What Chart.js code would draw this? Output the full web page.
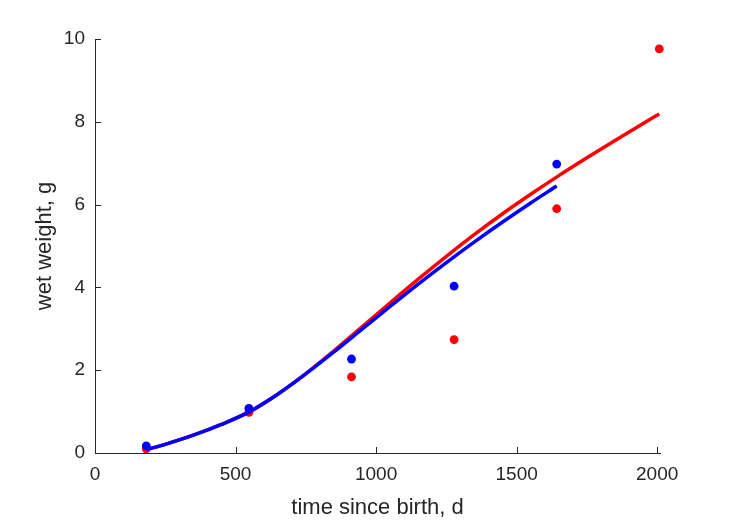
<!DOCTYPE html>
<html>
<head>
<meta charset="utf-8">
<script src="https://cdn.jsdelivr.net/npm/chart.js@4.4.0/dist/chart.umd.min.js"></script>
<style>
  html, body { margin: 0; padding: 0; background: #fff; }
  #wrap { width: 729px; height: 521px; }
</style>
</head>
<body>
<div id="wrap"><canvas id="myChart" width="729" height="521"></canvas></div>
<script>
// measured ages (d) and wet weights (g)
let ageDays = [182.5, 547.5, 912.5, 1277.5, 1642.5, 2007.5];
let weightBlue = [0.17, 1.08, 2.27, 4.03, 6.98];
let weightRed = [0.10, 0.98, 1.84, 2.74, 5.90, 9.76];

// fitted growth curves
let fitRedX = [182.5, 250, 350, 450, 550, 650, 750, 850, 950, 1050, 1150, 1250, 1350, 1450, 1550, 1650, 1750, 1850, 1950, 2007.5];
let fitRedY = [0.08, 0.21, 0.43, 0.69, 1.00, 1.42, 1.92, 2.47, 3.05, 3.63, 4.20, 4.75, 5.28, 5.78, 6.25, 6.70, 7.13, 7.55, 7.96, 8.19];
let fitBlueX = [182.5, 250, 350, 450, 550, 650, 750, 850, 950, 1050, 1150, 1250, 1350, 1450, 1550, 1642.5];
let fitBlueY = [0.08, 0.21, 0.43, 0.69, 1.00, 1.42, 1.91, 2.44, 2.99, 3.54, 4.08, 4.60, 5.10, 5.58, 6.04, 6.45];

let xTicks = [0, 500, 1000, 1500, 2000];
let yTicks = [0, 2, 4, 6, 8, 10];

function pts(xs, ys) {
    return ys.map((y, i) => ({x: xs[i], y: y}));
}

let axisColor = '#262626';
let fontFamily = '"Liberation Sans", Arial, Helvetica, sans-serif';

// matlab style ticks pointing into the plot
let innerTicks = {
    id: 'innerTicks',
    afterDraw(chart) {
        let c = chart.ctx;
        let xs = chart.scales.x, ys = chart.scales.y;
        let len = 6;
        c.save();
        c.strokeStyle = axisColor;
        c.lineWidth = 1;
        c.beginPath();
        xTicks.forEach(v => {
            let px = Math.round(xs.getPixelForValue(v)) + 0.5;
            c.moveTo(px, ys.bottom);
            c.lineTo(px, ys.bottom - len);
        });
        yTicks.forEach(v => {
            let py = Math.round(ys.getPixelForValue(v)) + 0.5;
            c.moveTo(xs.left, py);
            c.lineTo(xs.left + len, py);
        });
        c.stroke();
        c.restore();
    }
};

let ctx = document.getElementById('myChart').getContext('2d');
let myChart = new Chart(ctx, {
    type: 'scatter',
    data: {
        datasets: [
            {
                data: pts(fitBlueX, fitBlueY),
                borderColor: '#0000ff',
                borderWidth: 3.5,
                pointRadius: 0,
                showLine: true,
                clip: false,
                cubicInterpolationMode: 'monotone'
            },
            {
                data: pts(ageDays, weightBlue),
                backgroundColor: '#0000ff',
                borderColor: '#0000ff',
                pointRadius: 4.4,
                pointBorderWidth: 0,
                clip: false,
                showLine: false
            },
            {
                data: pts(fitRedX, fitRedY),
                borderColor: '#ff0000',
                borderWidth: 3.5,
                pointRadius: 0,
                showLine: true,
                clip: false,
                cubicInterpolationMode: 'monotone'
            },
            {
                data: pts(ageDays, weightRed),
                backgroundColor: '#ff0000',
                borderColor: '#ff0000',
                pointRadius: 4.4,
                pointBorderWidth: 0,
                clip: false,
                showLine: false
            }
        ]
    },
    options: {
        responsive: false,
        animation: false,
        layout: { padding: { left: 0, top: 39, right: 69, bottom: 0 } },
        plugins: {
            legend: { display: false },
            tooltip: { enabled: false }
        },
        scales: {
            x: {
                type: 'linear',
                min: 0,
                max: 2010,
                afterFit: (scale) => { scale.height = 68; },
                afterBuildTicks: (scale) => { scale.ticks = xTicks.map(v => ({value: v})); },
                border: { color: axisColor, width: 1 },
                grid: { drawOnChartArea: false, drawTicks: false },
                ticks: {
                    color: axisColor,
                    padding: 10,
                    maxRotation: 0,
                    font: { family: fontFamily, size: 19 },
                    callback: (v) => String(v)
                },
                title: {
                    display: true,
                    text: 'time since birth, d',
                    color: axisColor,
                    padding: { top: 0, bottom: 0 },
                    font: { family: fontFamily, size: 22 }
                }
            },
            y: {
                type: 'linear',
                min: 0,
                max: 10,
                afterFit: (scale) => { scale.width = 95; },
                afterBuildTicks: (scale) => { scale.ticks = yTicks.map(v => ({value: v})); },
                border: { color: axisColor, width: 1 },
                grid: { drawOnChartArea: false, drawTicks: false },
                ticks: {
                    color: axisColor,
                    padding: 10,
                    font: { family: fontFamily, size: 19 },
                    callback: (v) => String(v)
                },
                title: {
                    display: true,
                    text: 'wet weight, g',
                    color: axisColor,
                    padding: { top: 32, bottom: 0 },
                    font: { family: fontFamily, size: 22 }
                }
            }
        }
    },
    plugins: [innerTicks]
});
</script>
</body>
</html>
